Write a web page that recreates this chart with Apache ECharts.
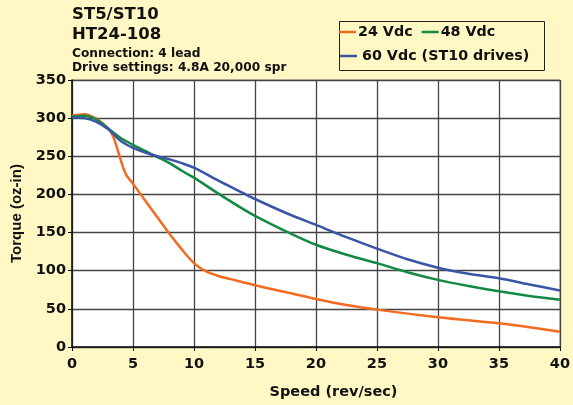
<!DOCTYPE html>
<html>
<head>
<meta charset="utf-8">
<script src="https://cdn.jsdelivr.net/npm/echarts@6/dist/echarts.min.js"></script>
<style>
html,body{margin:0;padding:0;background:#FFF8C5;}
#chart{width:573px;height:405px;}
</style>
</head>
<body>
<div id="chart"></div>
<script>
var xTicks = [0, 5, 10, 15, 20, 25, 30, 35, 40];
var yTicks = [0, 50, 100, 150, 200, 250, 300, 350];

var speed24 = [0, 1, 2, 3, 3.4, 3.9, 4.4, 5, 6, 7, 8, 9, 10, 11, 12, 13, 15, 17.5, 20, 22.5, 25, 30, 35, 37.5, 40];
var torque24 = [303, 305, 299, 286, 275, 250, 227, 214, 192, 170, 148, 128, 110, 99, 93, 89, 81, 72, 63, 55, 49, 39, 31, 26, 20];

var speed48 = [0, 1, 2, 3, 4, 5, 6, 7, 8, 9, 10, 12, 14, 15, 17.5, 20, 22.5, 25, 27.5, 30, 32.5, 35, 37.5, 40];
var torque48 = [302, 303, 298, 286, 274, 265, 257, 249, 241, 231, 222, 201, 181, 172, 152, 134, 121, 110, 98, 88, 80, 73, 67, 62];

var speed60 = [0, 1, 2, 3, 4, 5, 6, 7, 8, 9, 10, 12, 14, 15, 17.5, 20, 22.5, 25, 27.5, 30, 32.5, 35, 37.5, 40];
var torque60 = [301, 300, 295, 285, 270, 261, 255, 250, 246, 241, 235, 218, 202, 194, 176, 160, 144, 129, 115, 104, 96, 90, 82, 74];

function pairs(xs, ys) { return xs.map(function (x, i) { return [x, ys[i]]; }); }

var FONT = '"DejaVu Sans", sans-serif';
var FONT_V = '"Liberation Sans", Arial, sans-serif';
var chart = echarts.init(document.getElementById('chart'));
chart.setOption({
  backgroundColor: '#FFF8C5',
  animation: false,
  textStyle: { fontFamily: FONT },
  title: {
    text: 'ST5/ST10\nHT24-108',
    subtext: 'Connection: 4 lead\nDrive settings: 4.8A 20,000 spr',
    left: 72, top: 5, itemGap: 2, padding: 0,
    textStyle: { fontFamily: FONT, fontSize: 16.5, fontWeight: 'bold', color: '#111', lineHeight: 20 },
    subtextStyle: { fontFamily: FONT, fontSize: 12.2, fontWeight: 'bold', color: '#111', lineHeight: 14 }
  },
  legend: [{
    data: ['24 Vdc', '48 Vdc'],
    left: 339, top: 25, padding: 0, itemGap: 9,
    icon: 'rect', itemWidth: 17, itemHeight: 2.5,
    textStyle: { fontFamily: FONT, fontSize: 14.3, fontWeight: 'bold', color: '#111', padding: [0, 0, 0, -3] }
  }, {
    data: ['60 Vdc (ST10 drives)'],
    left: 340, top: 49, padding: 0,
    icon: 'rect', itemWidth: 17, itemHeight: 2.5,
    textStyle: { fontFamily: FONT, fontSize: 14.3, fontWeight: 'bold', color: '#111' }
  }],
  graphic: [{
    type: 'rect', left: 337, top: 19,
    shape: { width: 205, height: 49 },
    style: { fill: 'none', stroke: '#222', lineWidth: 1 }
  }],
  grid: { left: 72, right: 11, top: 80, bottom: 55, show: true, backgroundColor: '#fff', borderColor: '#999', borderWidth: 1 },
  xAxis: {
    type: 'value', min: xTicks[0], max: xTicks[xTicks.length - 1], interval: 5,
    name: 'Speed (rev/sec)', nameLocation: 'middle', nameGap: 38,
    nameTextStyle: { fontFamily: FONT, fontSize: 14.5, fontWeight: 'bold', color: '#111', padding: [0, 0, 0, 35] },
    axisLine: { show: true, lineStyle: { color: '#111', width: 1.5 } },
    axisTick: { show: true, length: 4, lineStyle: { color: '#111' } },
    axisLabel: { fontFamily: FONT, fontSize: 14.5, fontWeight: 'bold', color: '#111', margin: 10 },
    splitLine: { show: true, lineStyle: { color: '#444', width: 1.3 } }
  },
  yAxis: {
    type: 'value', min: yTicks[0], max: yTicks[yTicks.length - 1], interval: 50,
    name: 'Torque (oz-in)', nameLocation: 'middle', nameGap: 47,
    nameTextStyle: { fontFamily: FONT_V, fontSize: 15, fontWeight: 'bold', color: '#111' },
    axisLine: { show: true, lineStyle: { color: '#111', width: 1.5 } },
    axisTick: { show: true, length: 4, lineStyle: { color: '#111' } },
    axisLabel: { fontFamily: FONT, fontSize: 14.5, fontWeight: 'bold', color: '#111', margin: 6 },
    splitLine: { show: true, lineStyle: { color: '#444', width: 1.3 } }
  },
  series: [{
    name: '24 Vdc', type: 'line', data: pairs(speed24, torque24), smooth: 0.3,
    symbol: 'none', lineStyle: { color: '#F26B21', width: 2.5 }, itemStyle: { color: '#F26B21' }
  }, {
    name: '48 Vdc', type: 'line', data: pairs(speed48, torque48), smooth: 0.3,
    symbol: 'none', lineStyle: { color: '#138A43', width: 2.5 }, itemStyle: { color: '#138A43' }
  }, {
    name: '60 Vdc (ST10 drives)', type: 'line', data: pairs(speed60, torque60), smooth: 0.3,
    symbol: 'none', lineStyle: { color: '#3A55A6', width: 2.5 }, itemStyle: { color: '#3A55A6' }
  }]
});
</script>
</body>
</html>
